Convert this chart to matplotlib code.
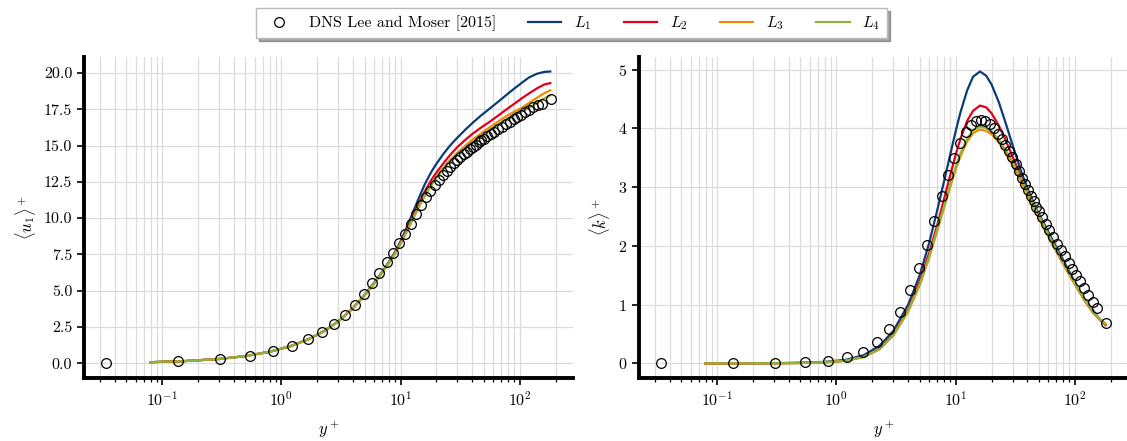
import matplotlib
matplotlib.use("Agg")
import matplotlib.pyplot as plt
import numpy as np

plt.rcParams.update({
    "font.family": "serif",
    "font.serif": ["cmr10"],
    "mathtext.fontset": "cm",
    "axes.formatter.use_mathtext": True,
    "axes.unicode_minus": False,
    "font.size": 11.5,
})

# DNS (Lee and Moser 2015) points
dns_y = [0.034, 0.136, 0.306, 0.544, 0.85, 1.224, 1.666, 2.176, 2.754, 3.40,
         4.11, 4.89, 5.74, 6.65, 7.63, 8.67, 9.78, 10.95, 12.19, 13.49,
         14.85, 16.27, 17.75, 19.30, 20.91, 22.58, 24.30, 26.09, 27.94, 29.85,
         31.8, 33.9, 36.0, 38.2, 40.4, 42.7, 45.1, 47.6, 50.1, 53.4,
         57.0, 61.0, 65.5, 70.5, 76.0, 82.0, 88.5, 95.5, 103.0, 111.0,
         120.0, 130.0, 141.0, 152.0, 182.0]
dns_u = [0.0, 0.14, 0.31, 0.54, 0.85, 1.22, 1.66, 2.16, 2.73, 3.36,
         4.03, 4.76, 5.50, 6.24, 6.95, 7.62, 8.28, 8.92, 9.6, 10.3,
         10.9, 11.45, 11.9, 12.3, 12.65, 12.97, 13.26, 13.53, 13.78, 14.0,
         14.2, 14.4, 14.58, 14.75, 14.91, 15.06, 15.21, 15.35, 15.48, 15.64,
         15.8, 15.96, 16.13, 16.3, 16.47, 16.64, 16.81, 16.97, 17.13, 17.3,
         17.46, 17.62, 17.76, 17.88, 18.2]
dns_k = [0.0, 0.001, 0.006, 0.018, 0.045, 0.10, 0.20, 0.36, 0.58, 0.88,
         1.25, 1.62, 2.02, 2.43, 2.85, 3.2, 3.5, 3.75, 3.94, 4.06,
         4.12, 4.14, 4.12, 4.07, 4.0, 3.91, 3.82, 3.72, 3.62, 3.51,
         3.4, 3.28, 3.16, 3.05, 2.95, 2.85, 2.76, 2.67, 2.59, 2.49,
         2.38, 2.27, 2.15, 2.04, 1.93, 1.82, 1.71, 1.61, 1.5, 1.4,
         1.29, 1.17, 1.05, 0.94, 0.69]

# model profiles
yp = [0.08, 0.15, 0.3, 0.5, 0.8, 1.2, 1.7, 2.3, 3, 4,
      5, 6, 7, 8, 9, 10, 11, 12.5, 14, 16,
      18, 20, 23, 26, 30, 35, 40, 47, 55, 65,
      77, 90, 105, 120, 140, 160, 180]

u_L1 = [0.08, 0.15, 0.30, 0.50, 0.80, 1.19, 1.67, 2.24, 2.89, 3.82,
        4.72, 5.55, 6.30, 7.00, 7.68, 8.40, 9.15, 10.25, 11.25, 12.35,
        13.15, 13.75, 14.45, 15.0, 15.55, 16.1, 16.55, 17.05, 17.5, 17.98,
        18.48, 18.93, 19.35, 19.7, 19.95, 20.07, 20.1]
u_L2 = [0.08, 0.15, 0.30, 0.50, 0.80, 1.19, 1.67, 2.23, 2.88, 3.81,
        4.70, 5.52, 6.27, 6.96, 7.62, 8.30, 9.00, 10.0, 10.9, 11.85,
        12.6, 13.15, 13.8, 14.35, 14.9, 15.4, 15.8, 16.22, 16.6, 17.03,
        17.48, 17.88, 18.28, 18.6, 18.95, 19.2, 19.3]
u_L3 = [0.08, 0.15, 0.30, 0.50, 0.80, 1.19, 1.67, 2.23, 2.88, 3.80,
        4.69, 5.50, 6.24, 6.93, 7.58, 8.25, 8.92, 9.85, 10.7, 11.6,
        12.3, 12.85, 13.5, 14.0, 14.5, 15.0, 15.4, 15.82, 16.22, 16.62,
        17.02, 17.34, 17.62, 17.95, 18.3, 18.6, 18.8]
u_L4 = [0.08, 0.15, 0.30, 0.50, 0.80, 1.19, 1.67, 2.23, 2.88, 3.80,
        4.69, 5.50, 6.24, 6.92, 7.57, 8.23, 8.90, 9.82, 10.65, 11.55,
        12.22, 12.75, 13.4, 13.9, 14.4, 14.85, 15.2, 15.62, 16.0, 16.4,
        16.8, 17.12, 17.38, 17.6, 17.95, 18.25, 18.45]

k_L1 = [0.0, 0.0005, 0.003, 0.01, 0.025, 0.06, 0.14, 0.30, 0.55, 1.0,
        1.5, 2.05, 2.6, 3.1, 3.55, 3.95, 4.28, 4.65, 4.88, 4.97,
        4.9, 4.75, 4.45, 4.12, 3.72, 3.3, 2.98, 2.65, 2.38, 2.1,
        1.82, 1.56, 1.3, 1.1, 0.92, 0.76, 0.65]
k_L2 = [0.0, 0.0003, 0.002, 0.006, 0.018, 0.045, 0.11, 0.25, 0.5, 0.92,
        1.4, 1.88, 2.35, 2.8, 3.2, 3.55, 3.83, 4.13, 4.3, 4.39,
        4.36, 4.26, 4.05, 3.82, 3.52, 3.2, 2.92, 2.6, 2.32, 2.03,
        1.76, 1.52, 1.28, 1.08, 0.88, 0.75, 0.66]
k_L3 = [0.0, 0.0003, 0.002, 0.006, 0.018, 0.045, 0.11, 0.24, 0.47, 0.88,
        1.33, 1.8, 2.25, 2.65, 3.0, 3.3, 3.53, 3.78, 3.92, 3.98,
        3.96, 3.9, 3.76, 3.6, 3.38, 3.12, 2.88, 2.58, 2.3, 2.02,
        1.75, 1.5, 1.27, 1.08, 0.88, 0.75, 0.66]
k_L4 = [0.0, 0.0003, 0.002, 0.006, 0.018, 0.045, 0.11, 0.24, 0.48, 0.9,
        1.35, 1.82, 2.28, 2.68, 3.04, 3.34, 3.58, 3.83, 3.97, 4.03,
        4.01, 3.95, 3.81, 3.65, 3.43, 3.17, 2.93, 2.63, 2.35, 2.06,
        1.78, 1.53, 1.3, 1.1, 0.9, 0.77, 0.68]

labels = [r"$L_1$", r"$L_2$", r"$L_3$", r"$L_4$"]
colors = ["#0b3c78", "#e2001a", "#f08a00", "#8cb33c"]

fig = plt.figure(figsize=(11.27, 4.41), dpi=100)
ax1 = fig.add_axes([0.0745, 0.143, 0.434, 0.728])
ax2 = fig.add_axes([0.567, 0.143, 0.434, 0.728])

def style(ax):
    ax.set_xscale("log")
    ax.grid(True, which="major", color="#dcdcdc", lw=0.9)
    ax.grid(True, which="minor", axis="x", color="#dcdcdc", lw=0.9)
    ax.set_axisbelow(True)
    for s in ["top", "right"]:
        ax.spines[s].set_visible(False)
    for s in ["left", "bottom"]:
        ax.spines[s].set_linewidth(2.8)
    ax.tick_params(which="major", length=5, width=1.2, labelsize=11.5)
    ax.tick_params(which="minor", length=3, width=0.9)
    ax.set_xlabel(r"$y^+$", fontsize=12, labelpad=8)

ax1.plot(dns_y, dns_u, "o", mfc="none", mec="k", ms=7, mew=0.9,
         label="DNS Lee and Moser [2015]", zorder=3)
for u, c, l in zip([u_L1, u_L2, u_L3, u_L4], colors, labels):
    ax1.plot(yp, u, color=c, lw=1.6, label=l)
ax1.set_ylabel(r"$\langle u_1\rangle^+$", fontsize=12)
ax1.set_yticks(np.arange(0, 20.1, 2.5))
ax1.set_yticklabels([f"{v:.1f}" for v in np.arange(0, 20.1, 2.5)])
style(ax1)

ax2.plot(dns_y, dns_k, "o", mfc="none", mec="k", ms=7, mew=0.9, zorder=3)
for k, c in zip([k_L1, k_L2, k_L3, k_L4], colors):
    ax2.plot(yp, k, color=c, lw=1.6)
ax2.set_ylabel(r"$\langle k\rangle^+$", fontsize=12)
style(ax2)

handles, labs = ax1.get_legend_handles_labels()
leg = fig.legend(handles, labs, loc="upper center", ncol=5, bbox_to_anchor=(0.507, 1.0),
                 frameon=True, fancybox=False, shadow=True, fontsize=11.5,
                 handlelength=2.1, handletextpad=0.8, columnspacing=2.0,
                 borderpad=0.4)
leg.get_frame().set_edgecolor("#bbbbbb")

fig.savefig("out.png", dpi=100)
